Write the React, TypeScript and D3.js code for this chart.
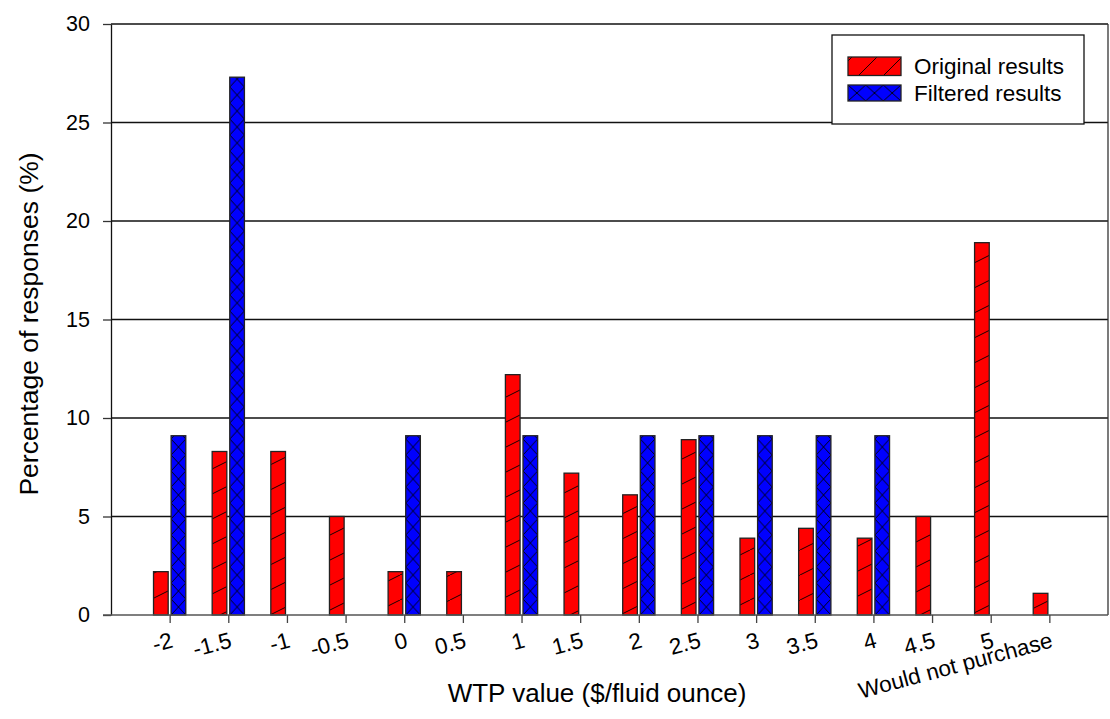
import React, { useEffect, useRef } from "react";
import * as d3 from "d3";

const categories: string[] = [
	"-2", "-1.5", "-1", "-0.5", "0", "0.5", "1", "1.5",
	"2", "2.5", "3", "3.5", "4", "4.5", "5", "Would not purchase",
];
const originalResults: number[] = [
	2.2, 8.3, 8.3, 5.0, 2.2, 2.2, 12.2, 7.2, 6.1, 8.9, 3.9, 4.4, 3.9, 5.0, 18.9, 1.1,
];
// null = no bar
const filteredResults: (number | null)[] = [
	9.1, 27.3, null, null, 9.1, null, 9.1, null, 9.1, 9.1, 9.1, 9.1, 9.1, null, null, null,
];
const yTicks: number[] = [0, 5, 10, 15, 20, 25, 30];
const seriesNames: string[] = ["Original results", "Filtered results"];

const W = 1110;
const H = 719;
const FONT = "Liberation Sans, Arial, sans-serif";

const App: React.FC = () => {
	const svgRef = useRef<SVGSVGElement>(null);

	useEffect(() => {
		if (!svgRef.current) return;
		const svg = d3.select(svgRef.current);
		svg.selectAll("*").remove();

		const left = 111;
		const right = 1108;
		const top = 24;
		const bottom = 615;

		const x = d3.scaleLinear().domain([-1, categories.length]).range([left, right]);
		const y = d3.scaleLinear().domain([0, 30]).range([bottom, top]);
		const step = x(1) - x(0);

		// patterns
		const defs = svg.append("defs");
		const hatch = defs
			.append("pattern")
			.attr("id", "hatch")
			.attr("patternUnits", "userSpaceOnUse")
			.attr("width", 50)
			.attr("height", 25);
		hatch.append("rect").attr("width", 50).attr("height", 25).attr("fill", "#ff0000");
		hatch
			.append("path")
			.attr("d", "M0,25 L50,0 M-50,25 L0,0 M50,25 L100,0")
			.attr("stroke", "#000")
			.attr("stroke-width", 0.9);

		const legHatch = defs
			.append("pattern")
			.attr("id", "leghatch")
			.attr("patternUnits", "userSpaceOnUse")
			.attr("x", 852)
			.attr("y", 57)
			.attr("width", 25)
			.attr("height", 25);
		legHatch.append("rect").attr("width", 25).attr("height", 25).attr("fill", "#ff0000");
		legHatch
			.append("path")
			.attr("d", "M0,25 L25,0 M-25,25 L0,0 M25,25 L50,0")
			.attr("stroke", "#000")
			.attr("stroke-width", 0.9);

		const cw = step / 4;
		const ch = 16;
		const cross = defs
			.append("pattern")
			.attr("id", "cross")
			.attr("patternUnits", "userSpaceOnUse")
			.attr("x", x(0.025))
			.attr("y", bottom)
			.attr("width", cw)
			.attr("height", ch);
		cross.append("rect").attr("width", cw).attr("height", ch).attr("fill", "#0000ff");
		cross
			.append("path")
			.attr("d", `M0,0 L${cw},${ch} M${cw},0 L0,${ch}`)
			.attr("stroke", "#000")
			.attr("stroke-width", 0.9);

		const legCross = defs
			.append("pattern")
			.attr("id", "legcross")
			.attr("patternUnits", "userSpaceOnUse")
			.attr("x", 848)
			.attr("y", 85)
			.attr("width", 53 / 3)
			.attr("height", 16);
		legCross.append("rect").attr("width", 53 / 3).attr("height", 16).attr("fill", "#0000ff");
		legCross
			.append("path")
			.attr("d", `M0,0 L${53 / 3},16 M${53 / 3},0 L0,16`)
			.attr("stroke", "#000")
			.attr("stroke-width", 0.9);

		// grid lines
		svg
			.append("g")
			.selectAll("line")
			.data(yTicks.filter((t) => t > 0))
			.join("line")
			.attr("x1", left)
			.attr("x2", right)
			.attr("y1", (d) => y(d))
			.attr("y2", (d) => y(d))
			.attr("stroke", "#111")
			.attr("stroke-width", 1.3);

		// right frame
		svg
			.append("line")
			.attr("x1", right)
			.attr("x2", right)
			.attr("y1", top)
			.attr("y2", bottom)
			.attr("stroke", "#333")
			.attr("stroke-width", 1.3);

		// bars
		const barW = x(0.25) - x(0);
		svg
			.append("g")
			.selectAll("rect")
			.data(originalResults)
			.join("rect")
			.attr("x", (d, i) => x(i - 0.275))
			.attr("y", (d) => y(d))
			.attr("width", barW)
			.attr("height", (d) => y(0) - y(d))
			.attr("fill", "url(#hatch)")
			.attr("stroke", "#222")
			.attr("stroke-width", 1.3);

		svg
			.append("g")
			.selectAll("rect")
			.data(filteredResults.map((v, i) => ({ v, i })).filter((d) => d.v !== null))
			.join("rect")
			.attr("x", (d) => x(d.i + 0.025))
			.attr("y", (d) => y(d.v as number))
			.attr("width", barW)
			.attr("height", (d) => y(0) - y(d.v as number))
			.attr("fill", "url(#cross)")
			.attr("stroke", "#222")
			.attr("stroke-width", 1.3);

		// y axis
		const yAxis = svg
			.append("g")
			.attr("transform", `translate(${left},0)`)
			.call(d3.axisLeft(y).tickValues(yTicks).tickSize(8).tickPadding(13).tickSizeOuter(0));
		yAxis.select(".domain").attr("stroke", "#111").attr("stroke-width", 1.3);
		yAxis.selectAll(".tick line").attr("stroke", "#333").attr("stroke-width", 1.3);
		yAxis
			.selectAll(".tick text")
			.attr("font-family", FONT)
			.attr("font-size", 21.5)
			.attr("fill", "#000");

		// x axis
		const xAxis = svg
			.append("g")
			.attr("transform", `translate(0,${bottom})`)
			.call(
				d3
					.axisBottom(x)
					.tickValues(d3.range(categories.length))
					.tickFormat((d) => categories[+d])
					.tickSize(8)
					.tickSizeOuter(0)
			);
		xAxis.select(".domain").attr("d", `M${left - 8},0H${right}`).attr("stroke", "#555").attr("stroke-width", 1.5);
		xAxis.selectAll(".tick line").attr("stroke", "#444").attr("stroke-width", 1.3);
		xAxis
			.selectAll(".tick text")
			.attr("font-family", FONT)
			.attr("font-size", 22.5)
			.attr("fill", "#000")
			.attr("text-anchor", "end")
			.attr("y", 0)
			.attr("dy", 0)
			.attr("transform", "translate(4,32) rotate(-15)");

		// axis titles
		svg
			.append("text")
			.attr("transform", `translate(38,324) rotate(-90)`)
			.attr("text-anchor", "middle")
			.attr("font-family", FONT)
			.attr("font-size", 26.5)
			.text("Percentage of responses (%)");

		svg
			.append("text")
			.attr("x", 597)
			.attr("y", 702)
			.attr("text-anchor", "middle")
			.attr("font-family", FONT)
			.attr("font-size", 26)
			.text("WTP value ($/fluid ounce)");

		// legend
		const leg = svg.append("g");
		leg
			.append("rect")
			.attr("x", 832)
			.attr("y", 35)
			.attr("width", 252)
			.attr("height", 89)
			.attr("fill", "#fff")
			.attr("stroke", "#111")
			.attr("stroke-width", 1.3);
		const fills = ["url(#leghatch)", "url(#legcross)"];
		const swY = [57, 85];
		seriesNames.forEach((name, i) => {
			leg
				.append("rect")
				.attr("x", 848)
				.attr("y", swY[i])
				.attr("width", 53)
				.attr("height", i === 0 ? 18.5 : 16)
				.attr("fill", fills[i])
				.attr("stroke", "#222")
				.attr("stroke-width", 1.3);
			leg
				.append("text")
				.attr("x", 914)
				.attr("y", i === 0 ? 74 : 100.5)
				.attr("font-family", FONT)
				.attr("font-size", 22.5)
				.text(name);
		});
	}, []);

	return (
		<svg
			ref={svgRef}
			width={W}
			height={H}
			style={{ position: "absolute", left: 0, top: 0, background: "#fff" }}
		/>
	);
};

export default App;
